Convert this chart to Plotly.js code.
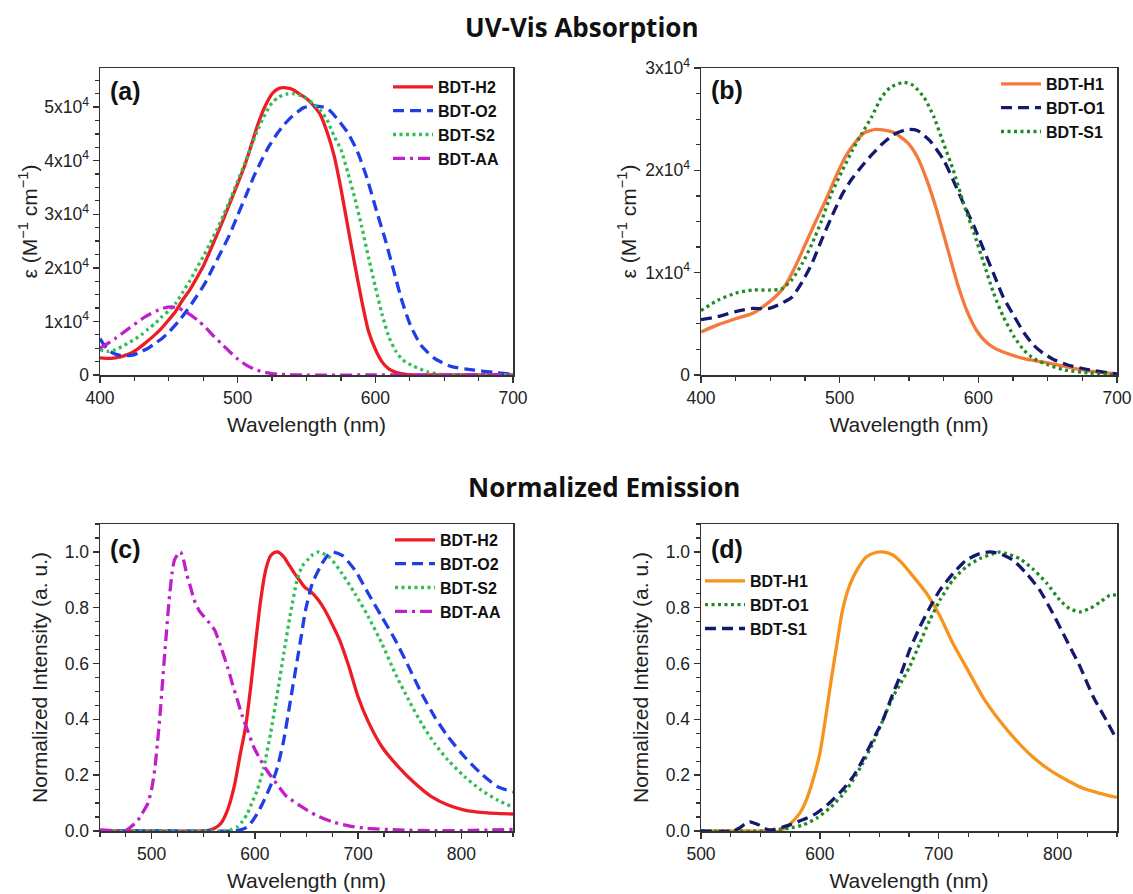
<!DOCTYPE html>
<html>
<head>
<meta charset="utf-8">
<script src="https://cdn.plot.ly/plotly-3.0.1.min.js"></script>
<style>html,body{margin:0;padding:0;background:#fff;}#chart{width:1133px;height:894px;}</style>
</head>
<body>
<div id="chart"></div>
<script>
// ---------- Panel (a): UV-Vis absorption, series 2 ----------
const wlA_H2 = [400,408,415,421,427,433,439,445,450,455,460,465,470,475,480,485,490,495,500,505,510,515,520,525,530,535,540,545,550,555,560,565,570,575,580,585,590,595,600,605,610,615,620,628,640,660,700];
const epsA_H2 = [3200,3100,3400,3900,4800,6000,7300,8800,10300,11900,14000,15800,18000,20300,23200,26200,29300,32500,35700,39000,43000,47000,50200,52500,53500,53600,53300,52400,51600,50300,48600,45300,41000,34800,27700,20700,14000,8200,4800,2400,1100,500,200,0,0,0,0];

const wlA_O2 = [400,403,406,410,414,420,425,430,435,440,445,450,457,463,470,476,482,488,494,500,506,512,518,523,528,533,538,543,548,555,560,565,572,580,587,594,601,607.5,613.5,619.5,625.5,633,643,655,672,686,700];
const epsA_O2 = [6800,5600,4700,4000,3700,3600,3800,4400,5000,5900,6800,8000,10000,12000,14600,17000,20000,23000,26100,29800,33500,37200,40400,42800,44800,46500,47900,49000,49900,50200,50100,49800,47900,45200,41700,36700,30500,25000,19300,13700,9300,5600,3100,1600,900,500,100];

const wlA_S2 = [400,406,410,416,420,426,430,435,440,445,450,455,460,465,470,475,480,485,490,495,500,505,510,515,520,525,530,535,540,545,550,555,560,565,570,575,580,585,590,595,600,605,610,615,620,628,638,648,660,700];
const epsA_S2 = [4700,4400,4600,5300,5900,6800,7500,8600,9600,10900,12000,13400,15400,17500,19800,22100,24600,27200,30000,33000,36200,39400,42800,46000,48700,50800,51900,52400,52500,52200,51600,50600,49400,47600,44600,42100,37800,33100,27800,22000,16500,11200,7000,4400,2800,1600,600,100,0,0];

const wlA_AA = [400,411,421,433,445,452,457,462,467,472,477,482,488,494,500,506,512,518,525,532,545,600,650,700];
const epsA_AA = [5000,6800,8700,10900,12400,12700,12500,11800,11000,10000,8800,7400,5900,4400,3000,1900,1100,600,250,100,0,0,0,100];

// ---------- Panel (b): UV-Vis absorption, series 1 ----------
const wlB_H1 = [400,412,425,437,446,454,461,468,475,482,490,497,504,511,518,526,533,539,549,556,563,570,577.5,585,592,599,605,612,621,633,645,657,669,685,700];
const epsB_H1 = [4200,4900,5500,6000,6800,7700,8800,10600,12700,14800,17100,19300,21300,22700,23700,24000,23900,23700,22700,21300,19000,16100,12500,8900,6200,4300,3300,2600,2100,1600,1300,1000,650,300,100];

const wlB_O1 = [400,412,425,437,449,458,465.5,473,480,487,494,502,509,516,523,530,539,549,556,565,575,582,589.5,597,604,611,618,626,633,640,647,654.5,664,680,700];
const epsB_O1 = [5400,5700,6200,6500,6500,7000,7600,9100,10900,13200,15400,17700,19200,20400,21500,22500,23500,24000,23900,22900,21000,19000,16700,14500,12200,9900,7600,5700,4100,2900,2100,1500,1000,500,100];

const wlB_S1 = [400,412,425,437,449,458,465.5,473,480,487,494,502,509,516,523,530,536.5,546,553,561,568,575,582,589.5,597,604,611,618,626,633,640,650,662,680,700];
const epsB_S1 = [6300,7300,8000,8300,8300,8400,9300,10900,12800,15100,17700,20000,21900,23600,25200,27100,28100,28600,28300,27100,25200,22600,20000,16700,13800,10900,8000,5700,3700,2400,1600,1000,500,200,0];

// ---------- Panel (c): normalized emission, series 2 ----------
const wlC_H2 = [450,500,550,556,561,567,573.5,580,586,591,596,601,605.6,610.4,615,619,622,628,632,638,643,648,655,662,668,675,682,691,700,710,723,739,755,771,787,803,822,850];
const intC_H2 = [0,0,0,0.003,0.01,0.027,0.075,0.16,0.278,0.373,0.517,0.684,0.827,0.934,0.985,0.998,1.0,0.982,0.96,0.925,0.9,0.875,0.855,0.825,0.79,0.74,0.685,0.59,0.48,0.39,0.302,0.23,0.171,0.123,0.093,0.075,0.066,0.061];

const wlC_O2 = [450,520,580,587,593,597.5,602.4,607,612,620,624,628,634.5,641,645,649,655.6,665,670,675,684.5,697,710,723,736,749,761.5,774,787,803,819,835,850];
const intC_O2 = [0,0,0,0.005,0.015,0.035,0.063,0.095,0.135,0.206,0.26,0.326,0.469,0.612,0.7,0.79,0.887,0.958,0.985,1.0,0.988,0.934,0.85,0.767,0.684,0.588,0.493,0.41,0.338,0.266,0.206,0.159,0.14];

const wlC_S2 = [450,520,570,577,583,588,592.8,597,602.4,608.8,615.2,621.6,628,634.5,641,646,652,656,662,672,684.5,697,710,723,736,749,761.5,774,787,803,819,835,850];
const intC_S2 = [0,0,0,0.005,0.015,0.035,0.063,0.1,0.147,0.23,0.35,0.49,0.636,0.78,0.9,0.95,0.975,0.99,1.0,0.982,0.922,0.85,0.767,0.672,0.564,0.469,0.385,0.314,0.254,0.195,0.147,0.111,0.085];

const wlC_AA = [450,460,474,480,487,492,496.5,500,503,505.5,508,510.5,513,517,520,522,525,528,531,534,538,541,546,551,556,561,567,573.5,578,583,588,593,599,605.6,612,618.4,625,631,644,659,675,691,707,739,771,810,850];
const intC_AA = [0.004,0.002,0,0.015,0.04,0.07,0.1,0.15,0.22,0.31,0.41,0.53,0.65,0.83,0.93,0.97,0.99,1.0,0.97,0.92,0.87,0.83,0.79,0.767,0.745,0.72,0.66,0.588,0.53,0.47,0.41,0.36,0.3,0.254,0.215,0.183,0.15,0.123,0.09,0.057,0.033,0.018,0.01,0.004,0.001,0.002,0.006];

// ---------- Panel (d): normalized emission, series 1 ----------
const wlD_H1 = [500,540,566,569,574,583,588.5,594,600,605,609.5,614,619,625,631,639,647,653,661,668,678,690,701,712,723,737,751,765,779,793.5,807.5,821.5,835.6,850];
const intD_H1 = [0,0,0,0.006,0.021,0.063,0.11,0.18,0.278,0.41,0.54,0.66,0.79,0.88,0.934,0.982,0.998,1.0,0.99,0.965,0.915,0.85,0.77,0.672,0.588,0.481,0.397,0.326,0.266,0.218,0.183,0.153,0.135,0.12];

const wlD_O1 = [500,555,560,574,585.6,597,608,619,628,636,644.6,653,661.5,668,675.5,684,692.4,701,712,723,734.5,746,752,757,768,779,791,802,810,819,827,836,844,850];
const intD_O1 = [0,0,0.004,0.01,0.021,0.045,0.081,0.129,0.183,0.242,0.314,0.397,0.481,0.53,0.588,0.672,0.755,0.827,0.9,0.946,0.976,0.994,1.0,0.994,0.976,0.94,0.887,0.827,0.797,0.785,0.797,0.821,0.845,0.845];

const wlD_S1 = [500,527,532,537,541,545,549,553,557.6,562,566,574,585.6,597,608,619,628,636,644.6,653,661.5,668,675.5,684,692.4,701,712,723,734.5,743,751.4,762.6,774,785,796,807.5,819,830,841,850];
const intD_S1 = [0,0,0.01,0.025,0.033,0.028,0.021,0.01,0.004,0.006,0.01,0.021,0.04,0.063,0.1,0.147,0.195,0.254,0.326,0.397,0.493,0.56,0.648,0.73,0.8,0.863,0.922,0.97,0.994,1.0,0.994,0.97,0.922,0.863,0.78,0.684,0.588,0.481,0.397,0.326];

// ---------- tick labels ----------
const tickValsA = [0,10000,20000,30000,40000,50000];
const tickTextA = ['0','1x10<sup>4</sup>','2x10<sup>4</sup>','3x10<sup>4</sup>','4x10<sup>4</sup>','5x10<sup>4</sup>'];
const tickValsB = [0,10000,20000,30000];
const tickTextB = ['0','1x10<sup>4</sup>','2x10<sup>4</sup>','3x10<sup>4</sup>'];

// ---------- styling ----------
const FONT = 'Liberation Sans, Arial, sans-serif';
const W = 1133, H = 894;
const LW = 3.3;
const DASH = '11px,6px', DOT = '3px,3.5px', DASHDOT = '12px,5px,3px,5px';

function line(x, y, name, color, dash, xa, ya, leg) {
  return {x: x, y: y, name: name, type: 'scatter', mode: 'lines', xaxis: xa, yaxis: ya, legend: leg,
          line: {color: color, width: LW, dash: dash, shape: 'spline', smoothing: 0.6}, hoverinfo: 'x+y+name'};
}

const traces = [
  line(wlA_H2, epsA_H2, 'BDT-H2', '#ee1c25', 'solid', 'x', 'y', 'legend'),
  line(wlA_O2, epsA_O2, 'BDT-O2', '#1f3ee6', DASH, 'x', 'y', 'legend'),
  line(wlA_S2, epsA_S2, 'BDT-S2', '#2fbf55', DOT, 'x', 'y', 'legend'),
  line(wlA_AA, epsA_AA, 'BDT-AA', '#bf20c8', DASHDOT, 'x', 'y', 'legend'),

  line(wlB_H1, epsB_H1, 'BDT-H1', '#f47a3c', 'solid', 'x2', 'y2', 'legend2'),
  line(wlB_O1, epsB_O1, 'BDT-O1', '#15196e', DASH, 'x2', 'y2', 'legend2'),
  line(wlB_S1, epsB_S1, 'BDT-S1', '#1f8a26', DOT, 'x2', 'y2', 'legend2'),

  line(wlC_H2, intC_H2, 'BDT-H2', '#ee1c25', 'solid', 'x3', 'y3', 'legend3'),
  line(wlC_O2, intC_O2, 'BDT-O2', '#1f3ee6', DASH, 'x3', 'y3', 'legend3'),
  line(wlC_S2, intC_S2, 'BDT-S2', '#2fbf55', DOT, 'x3', 'y3', 'legend3'),
  line(wlC_AA, intC_AA, 'BDT-AA', '#bf20c8', DASHDOT, 'x3', 'y3', 'legend3'),

  line(wlD_H1, intD_H1, 'BDT-H1', '#f7941d', 'solid', 'x4', 'y4', 'legend4'),
  line(wlD_O1, intD_O1, 'BDT-O1', '#1f8a26', DOT, 'x4', 'y4', 'legend4'),
  line(wlD_S1, intD_S1, 'BDT-S1', '#15196e', DASH, 'x4', 'y4', 'legend4')
];

function ax(extra) {
  const base = {
    showline: true, mirror: true, linecolor: '#333', linewidth: 1.5,
    ticks: 'outside', ticklen: 6, tickwidth: 1.5, tickcolor: '#333',
    showgrid: false, zeroline: false, fixedrange: true,
    tickfont: {family: FONT, size: 17.5, color: '#222'}
  };
  return Object.assign(base, extra);
}
function xTitle() { return {text: 'Wavelength (nm)', font: {family: FONT, size: 21, color: '#222'}, standoff: 11}; }
function yTitle(t, s) { return {text: t, font: {family: FONT, size: 21, color: '#222'}, standoff: s}; }

const dxL = [100 / W, 513 / W], dxR = [701 / W, 1117 / W];
const dyT = [1 - 375 / H, 1 - 68 / H], dyB = [1 - 831 / H, 1 - 524 / H];
const minorX = {dtick: 25, ticks: 'outside', ticklen: 4, tickwidth: 1.2, tickcolor: '#333'};
const minorEps = {tickmode: 'linear', tick0: 0, dtick: 2500, ticks: 'outside', ticklen: 4, tickwidth: 1.2, tickcolor: '#333'};
const minorInt = {dtick: 0.05, ticks: 'outside', ticklen: 4, tickwidth: 1.2, tickcolor: '#333'};
const EPS_TITLE = 'ε (M<sup>−1</sup> cm<sup>−1</sup>)';
const INT_TITLE = 'Normalized Intensity (a. u.)';

function legendAt(px, py) {
  return {x: px / W, y: 1 - py / H, xanchor: 'left', yanchor: 'top', bgcolor: 'rgba(0,0,0,0)',
          borderwidth: 0, itemwidth: 40, traceorder: 'normal',
          font: {family: FONT, size: 16, color: '#111', weight: 'bold'}};
}

const layout = {
  width: W, height: H,
  margin: {l: 0, r: 0, t: 0, b: 0},
  paper_bgcolor: '#fff', plot_bgcolor: '#fff',
  showlegend: true,
  xaxis: ax({domain: dxL, anchor: 'y', range: [400, 700], tick0: 400, dtick: 100, minor: minorX, title: xTitle()}),
  yaxis: ax({domain: dyT, anchor: 'x', range: [0, 57300], tickmode: 'array', tickvals: tickValsA, ticktext: tickTextA,
             minor: minorEps, title: yTitle(EPS_TITLE, 1)}),
  xaxis2: ax({domain: dxR, anchor: 'y2', range: [400, 700], tick0: 400, dtick: 100, minor: minorX, title: xTitle()}),
  yaxis2: ax({domain: dyT, anchor: 'x2', range: [0, 30000], tickmode: 'array', tickvals: tickValsB, ticktext: tickTextB,
             minor: minorEps, title: yTitle(EPS_TITLE, 3)}),
  xaxis3: ax({domain: dxL, anchor: 'y3', range: [450, 850], tick0: 0, dtick: 100, minor: minorX, title: xTitle()}),
  yaxis3: ax({domain: dyB, anchor: 'x3', range: [0, 1.1], tick0: 0, dtick: 0.2, tickformat: '.1f',
             minor: minorInt, title: yTitle(INT_TITLE, 11)}),
  xaxis4: ax({domain: dxR, anchor: 'y4', range: [500, 850], tick0: 0, dtick: 100, minor: minorX, title: xTitle()}),
  yaxis4: ax({domain: dyB, anchor: 'x4', range: [0, 1.1], tick0: 0, dtick: 0.2, tickformat: '.1f',
             minor: minorInt, title: yTitle(INT_TITLE, 11)}),
  legend: legendAt(388, 70),
  legend2: legendAt(996, 67),
  legend3: legendAt(390, 523),
  legend4: legendAt(700, 564),
  annotations: [
    {text: 'UV-Vis Absorption', xref: 'paper', yref: 'paper', x: 582 / W, y: 1 - 27 / H, xanchor: 'center', yanchor: 'middle', showarrow: false,
     font: {family: 'Open Sans, Liberation Sans, sans-serif', size: 26, color: '#111', weight: 'bold'}},
    {text: 'Normalized Emission', xref: 'paper', yref: 'paper', x: 604 / W, y: 1 - 487 / H, xanchor: 'center', yanchor: 'middle', showarrow: false,
     font: {family: 'Open Sans, Liberation Sans, sans-serif', size: 26, color: '#111', weight: 'bold'}},
    {text: '(a)', xref: 'paper', yref: 'paper', x: 108 / W, y: 1 - 91 / H, xanchor: 'left', yanchor: 'middle', showarrow: false,
     font: {family: FONT, size: 25, color: '#111', weight: 'bold'}},
    {text: '(b)', xref: 'paper', yref: 'paper', x: 709 / W, y: 1 - 90 / H, xanchor: 'left', yanchor: 'middle', showarrow: false,
     font: {family: FONT, size: 25, color: '#111', weight: 'bold'}},
    {text: '(c)', xref: 'paper', yref: 'paper', x: 108 / W, y: 1 - 549 / H, xanchor: 'left', yanchor: 'middle', showarrow: false,
     font: {family: FONT, size: 25, color: '#111', weight: 'bold'}},
    {text: '(d)', xref: 'paper', yref: 'paper', x: 709 / W, y: 1 - 549 / H, xanchor: 'left', yanchor: 'middle', showarrow: false,
     font: {family: FONT, size: 25, color: '#111', weight: 'bold'}}
  ]
};

Plotly.newPlot('chart', traces, layout, {displayModeBar: false, staticPlot: true});
</script>
</body>
</html>
